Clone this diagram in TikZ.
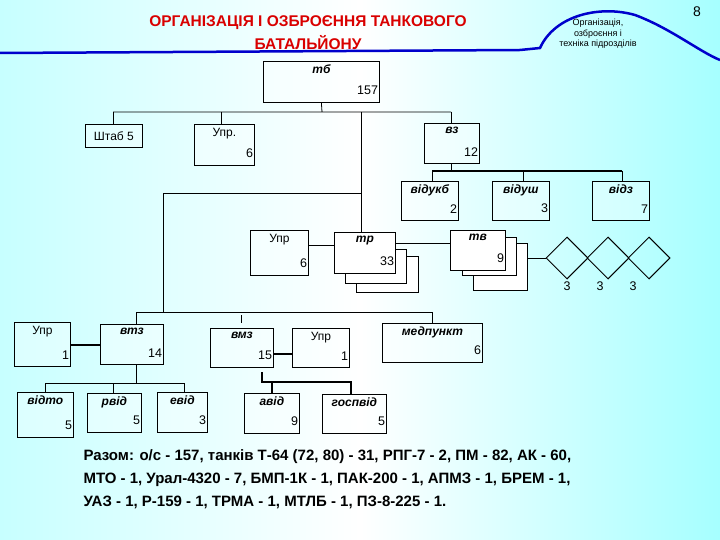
\documentclass[tikz,border=0pt]{standalone}
\usepackage{fontspec}
\setmainfont{Liberation Sans}
\usetikzlibrary{shapes.geometric}
\newcommand\ubox[7]{%
  \node[bx,minimum width=#4-#2,minimum height=#5-#3,anchor=north west] (#1) at (#2,#3) {};
  \node[nm,anchor=north] (#1-l) at ([yshift=-2]#1.north) {#6};
  \node[num,anchor=south east] (#1-n) at ([yshift=6]#1.south east) {#7};}
\begin{document}
\begin{tikzpicture}[x=1pt,y=-1pt,
  bx/.style={draw,line width=0.8pt,inner sep=0pt,fill=white,fill opacity=0.35,text opacity=1},
  nm/.style={font=\fontsize{12}{13}\selectfont\bfseries\itshape,inner sep=2pt},
  num/.style={font=\fontsize{12.5}{13}\selectfont,inner sep=1.5pt},
  ln/.style={line width=0.8pt},
  tk/.style={line width=2pt},
  sh/.style={draw,line width=0.8pt,fill=white},
  dia/.style={draw,diamond,line width=1pt,minimum width=42,minimum height=42,inner sep=0pt}]
\useasboundingbox (0,0) rectangle (720,540);
\shade[left color=cyan!22,right color=cyan!35,middle color=white] (0,0) rectangle (720,540);
% header
\node[text=red!85!black,font=\fontsize{15.5}{23}\selectfont\bfseries,align=center] (title) at (308,33) {ОРГАНІЗАЦІЯ І ОЗБРОЄННЯ ТАНКОВОГО\\БАТАЛЬЙОНУ};
\draw[blue!80!black,line width=2.5pt] (0,53) -- (520,50) -- (540,48) .. controls (555,15) and (600,5) .. (635,15) .. controls (670,28) and (700,52) .. (720,60);
\node[font=\fontsize{9}{10.5}\selectfont,align=center] (sub) at (598,34) {Організація,\\озброєння і\\техніка підрозділів};
\node[font=\fontsize{14}{15}\selectfont] (pg) at (697,12) {8};
% boxes
\ubox{tb}{263}{61}{379}{102}{тб}{157}
\node[bx,minimum width=57,minimum height=23,anchor=north west,font=\fontsize{12}{13}\selectfont] (shtab) at (85,124) {Штаб 5};
\ubox{upr}{194}{124}{254}{165}{\normalfont Упр.}{6}
\ubox{vz}{424}{123}{479}{163}{вз}{12}
\ubox{vdukb}{401}{181}{458}{220}{відукб}{2}
\ubox{vdush}{492}{181}{549}{220}{відуш}{3}
\ubox{vdz}{592}{181}{649}{220}{відз}{7}
\ubox{upr2}{250}{230}{308}{275}{\normalfont Упр}{6}
\draw[sh] (356,256) rectangle (418,292);
\draw[sh] (345,249) rectangle (406,283);
\draw[sh] (334,232) rectangle (395,273);
\ubox{tr}{334}{232}{395}{273}{тр}{33}
\draw[sh] (473,243) rectangle (527,290);
\draw[sh] (462,237) rectangle (516,275);
\draw[sh] (450,230) rectangle (505,270);
\ubox{tv}{450}{230}{505}{270}{тв}{9}
\node[dia] (d1) at (567,258) {};
\node[dia] (d2) at (608,258) {};
\node[dia] (d3) at (649,258) {};
\node[num] (n1) at (567,286) {3};
\node[num] (n2) at (600,286) {3};
\node[num] (n3) at (633,286) {3};
\ubox{upr3}{14}{322}{70}{366}{\normalfont Упр}{1}
\ubox{vtz}{100}{324}{163}{364}{втз}{14}
\ubox{vmz}{210}{328}{273}{367}{вмз}{15}
\ubox{upr4}{292}{328}{349}{367}{\normalfont Упр}{1}
\ubox{med}{382}{323}{482}{362}{медпункт}{6}
\ubox{vdto}{17}{392}{73}{437}{відто}{5}
\ubox{rvd}{87}{393}{141}{432}{рвід}{5}
\ubox{evd}{157}{392}{207}{432}{евід}{3}
\ubox{avd}{244}{393}{299}{433}{авід}{9}
\ubox{gosp}{322}{394}{386}{433}{госпвід}{5}
% connectors
\draw[ln] (tb.south) -- (322,112) (113,112) -- (451,112);
\draw[ln] (113,112) -- (shtab.north -| 113,0);
\draw[ln] (221,112) -- (upr.north -| 221,0);
\draw[ln] (451,112) -- (vz.north -| 451,0);
\draw[ln] (361,112) -- (tr.north -| 361,0);
\draw[ln] (361,193) -- (163,193) -- (163,312);
\draw[ln] (136,312) -- (432,312);
\draw[ln] (136,312) -- (vtz.north -| 136,0);
\draw[ln] (432,312) -- (med.north -| 432,0);
\draw[ln] (241,315) -- (241,323);
\draw[ln] (vz.south -| 451,0) -- (451,171);
\draw[tk] (432,171) -- (622,171);
\draw[ln] (432,171) -- (vdukb.north -| 432,0);
\draw[ln] (523,171) -- (vdush.north -| 523,0);
\draw[ln] (622,171) -- (vdz.north -| 622,0);
\draw[ln] (upr2.east |- 0,245) -- (tr.west |- 0,245);
\draw[ln] (tr.east |- 0,243) -- (tv.west |- 0,243);
\draw[ln] (527,258) -- (d1.west);
\draw[tk] (upr3.east |- 0,345) -- (vtz.west |- 0,345);
\draw[tk] (vmz.east |- 0,354) -- (upr4.west |- 0,354);
\draw[ln] (vtz.south -| 136,0) -- (136,383);
\draw[ln] (45,383) -- (184,383);
\draw[ln] (45,383) -- (vdto.north -| 45,0);
\draw[ln] (113,383) -- (rvd.north -| 113,0);
\draw[ln] (184,383) -- (evd.north -| 184,0);
\draw[tk] (262,372) -- (262,382) -- (351,382) -- (gosp.north -| 351,0);
\draw[tk] (272,382) -- (avd.north -| 272,0);
% summary
\node[anchor=north west,align=left,font=\fontsize{15}{23}\selectfont\bfseries] (sum) at (80,446) {Разом: о/с - 157, танків Т-64 (72, 80) - 31, РПГ-7 - 2, ПМ - 82, АК - 60,\\МТО - 1, Урал-4320 - 7, БМП-1К - 1, ПАК-200 - 1, АПМЗ - 1, БРЕМ - 1,\\УАЗ - 1, Р-159 - 1, ТРМА - 1, МТЛБ - 1, ПЗ-8-225 - 1.};
\end{tikzpicture}
\end{document}
